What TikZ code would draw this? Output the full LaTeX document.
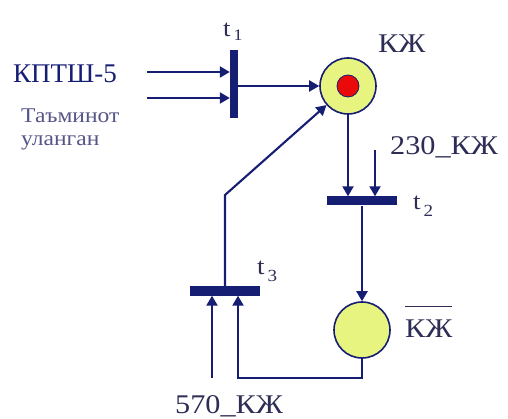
\documentclass[tikz,border=0pt]{standalone}
\usepackage{fontspec}
\setmainfont{Liberation Serif}
\newfontfamily\widefont{Liberation Serif}[FakeStretch=1.12]
\usepackage{amsmath}
\usepackage{tikz}
\usetikzlibrary{positioning, arrows.meta}

\definecolor{netblue}{RGB}{22,30,115}
\definecolor{labelgray}{RGB}{45,45,85}
\definecolor{notegray}{RGB}{85,85,135}
\definecolor{placefill}{RGB}{232,244,128}
\definecolor{tokenred}{RGB}{235,10,10}

\begin{document}
\begin{tikzpicture}[
    x=1pt, y=-1pt,
    >={Triangle[length=10pt, width=11pt]},
    arc/.style={->, draw=netblue, line width=2.1pt},
    place/.style={circle, draw=netblue, line width=1.6pt, fill=placefill, minimum size=56pt, inner sep=0pt},
    token/.style={circle, draw=netblue, line width=0.8pt, fill=tokenred, minimum size=22pt, inner sep=0pt},
    vbar/.style={fill=netblue, minimum width=8pt, minimum height=68pt, inner sep=0pt},
    hbar/.style={fill=netblue, minimum width=70pt, minimum height=9pt, inner sep=0pt},
    lbl/.style={text=labelgray, font=\widefont\fontsize{27}{27}\selectfont, inner sep=0pt, anchor=base west},
    tlbl/.style={text=labelgray, font=\widefont\fontsize{24}{24}\selectfont, inner sep=0pt, anchor=base west}
]
\useasboundingbox (0,0) rectangle (508,419);

% Places
\node[place] (kzh) at (348,86) {};
\node[token] (tok) at (kzh) {};
\node[place] (kzhbar) at (362,330) {};

% Transitions
\node[vbar] (t1) at (234,84) {};
\node[hbar] (t2) at (362,201) {};
\node[hbar] (t3) at (225,291) {};

% Free ends of the arcs
\coordinate (in1) at (147,72);
\coordinate (in2) at (147,98);
\coordinate (in230) at (375,150);
\coordinate (in570) at (212,378);
\coordinate (loop) at (238,378);
\coordinate (bend) at (225,195);

% Arcs
\draw[arc] (in1) -- (in1 -| t1.west);
\draw[arc] (in2) -- (in2 -| t1.west);
\draw[arc] (t1.east |- kzh) -- (kzh.west);
\draw[arc] (kzh.south) -- (kzh.south |- t2.north);
\draw[arc] (in230) -- (in230 |- t2.north);
\draw[arc] (t2.south) -- (kzhbar.north);
\draw[arc] (in570) -- (in570 |- t3.south);
\draw[arc] (kzhbar.south) |- (loop) -- (loop |- t3.south);
\draw[arc] (t3.north) -- (bend) -- (kzh);

% Labels
\node[lbl, text=netblue, font=\rmfamily\fontsize{27}{27}\selectfont] (kptsh) at (13,83) {КПТШ-5};
\node[lbl, text=notegray, font=\widefont\fontsize{21}{21}\selectfont] (note1) at (21,123) {Таъминот};
\node[lbl, text=notegray, font=\widefont\fontsize{21}{21}\selectfont] (note2) at (21,146) {уланган};
\node[tlbl] (t1lbl) at (223,37) {t\kern3pt\raisebox{-4pt}{\fontsize{16}{16}\selectfont 1}};
\node[tlbl] (t2lbl) at (413,210) {t\kern3pt\raisebox{-7pt}{\fontsize{17}{17}\selectfont 2}};
\node[tlbl] (t3lbl) at (257,275) {t\kern3pt\raisebox{-7pt}{\fontsize{17}{17}\selectfont 3}};
\node[lbl] (kzhlbl) at (378,53) {КЖ};
\node[lbl] (l230) at (390,155) {230\_КЖ};
\node[lbl] (kzhbarlbl) at (405,337) {$\overline{\vphantom{\rule{0pt}{27pt}}\hbox{КЖ}}$};
\node[lbl] (l570) at (175,413) {570\_КЖ};

\end{tikzpicture}
\end{document}
